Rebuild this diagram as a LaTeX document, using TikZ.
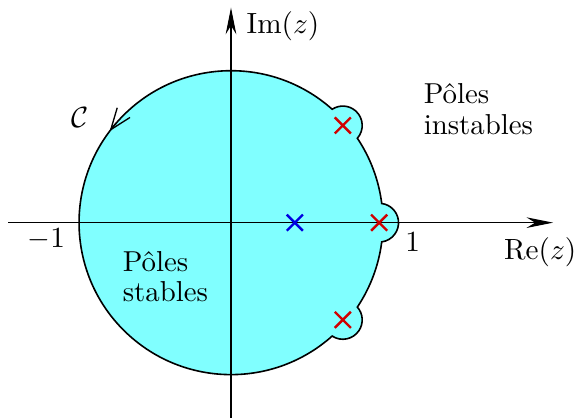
\documentclass[tikz,border=0pt]{standalone}
\usepackage{amsmath,amssymb}
\usepackage{tikz}
\usetikzlibrary{
  arrows.meta,
  positioning,
  shapes.misc,
}
\definecolor{stableFill}{HTML}{80FFFF}
\definecolor{poleRed}{HTML}{D00000}
\definecolor{poleBlue}{HTML}{0000E0}
\tikzset{
  axisArrow/.style={
    -{Stealth[length=10pt,width=4pt]}, line width=0.4pt, draw=black,
  },
  contour/.style={
    draw=black, line width=0.6pt, fill=stableFill,
  },
  pole/.style={
    cross out, draw=#1, line width=0.9pt, minimum size=0.18cm, inner sep=0pt,
  },
  lbl/.style={
    font=\fontsize{10.8}{11.5}\selectfont, inner sep=0pt,
  },
}

\begin{document}
\begin{tikzpicture}[scale=1.0]

% Frame (keeps the margins)
\useasboundingbox (-3.04,-2.57) rectangle (4.58,2.93);

% Contour: unit circle with bumps round the poles on it
\pgfmathsetmacro{\bigR}{2}
\pgfmathsetmacro{\poleD}{1.95}
\pgfmathsetmacro{\bumpR}{0.255}
\pgfmathsetmacro{\al}{acos((\bigR*\bigR+\poleD*\poleD-\bumpR*\bumpR)/(2*\bigR*\poleD))}
\pgfmathsetmacro{\be}{atan2(\bigR*sin(\al),\bigR*cos(\al)-\poleD)}
\draw[contour] (\al:\bigR)
  arc[start angle=\al, end angle=41-\al, radius=\bigR]
  arc[start angle=41-\be, end angle=41+\be, radius=\bumpR]
  arc[start angle=41+\al, end angle=319-\al, radius=\bigR]
  arc[start angle=-41-\be, end angle=-41+\be, radius=\bumpR]
  arc[start angle=-41+\al, end angle=-\al, radius=\bigR]
  arc[start angle=-\be, end angle=\be, radius=\bumpR]
  -- cycle;

% Direction of the contour
\draw[-{Straight Barb[length=8pt,width=6pt]}, line width=0.5pt] (139:\bigR) arc[start angle=139, end angle=143, radius=\bigR];
\node[lbl] (curveC) at (-1.99, 1.38) {$\mathcal{C}$};

% Axes
\draw[axisArrow] (-2.93,0) -- (4.24,0) coordinate (reEnd);
\draw[axisArrow] (0,-2.57) -- (0,2.83) coordinate (imEnd);
\node[lbl, anchor=west] (imLbl) at (0.2, 2.58) {$\mathrm{Im}(z)$};
\node[lbl] (reLbl) at (4.07, -0.39) {$\mathrm{Re}(z)$};
\node[lbl] (minusOne) at (-2.43, -0.22) {$-1$};
\node[lbl] (plusOne) at (2.39, -0.26) {$1$};

% Poles
\foreach \a in {41, 0, -41}
  \node[pole=poleRed] (p\a) at (\a:\poleD) {};
\node[pole=poleBlue] (pIn) at (0.84, 0) {};

% Region labels
\node[lbl, anchor=west, align=left] (unstable) at (2.53, 1.49) {Pôles\\instables};
\node[lbl, anchor=west, align=left] (stable) at (-1.43, -0.71) {Pôles\\stables};

\end{tikzpicture}
\end{document}
